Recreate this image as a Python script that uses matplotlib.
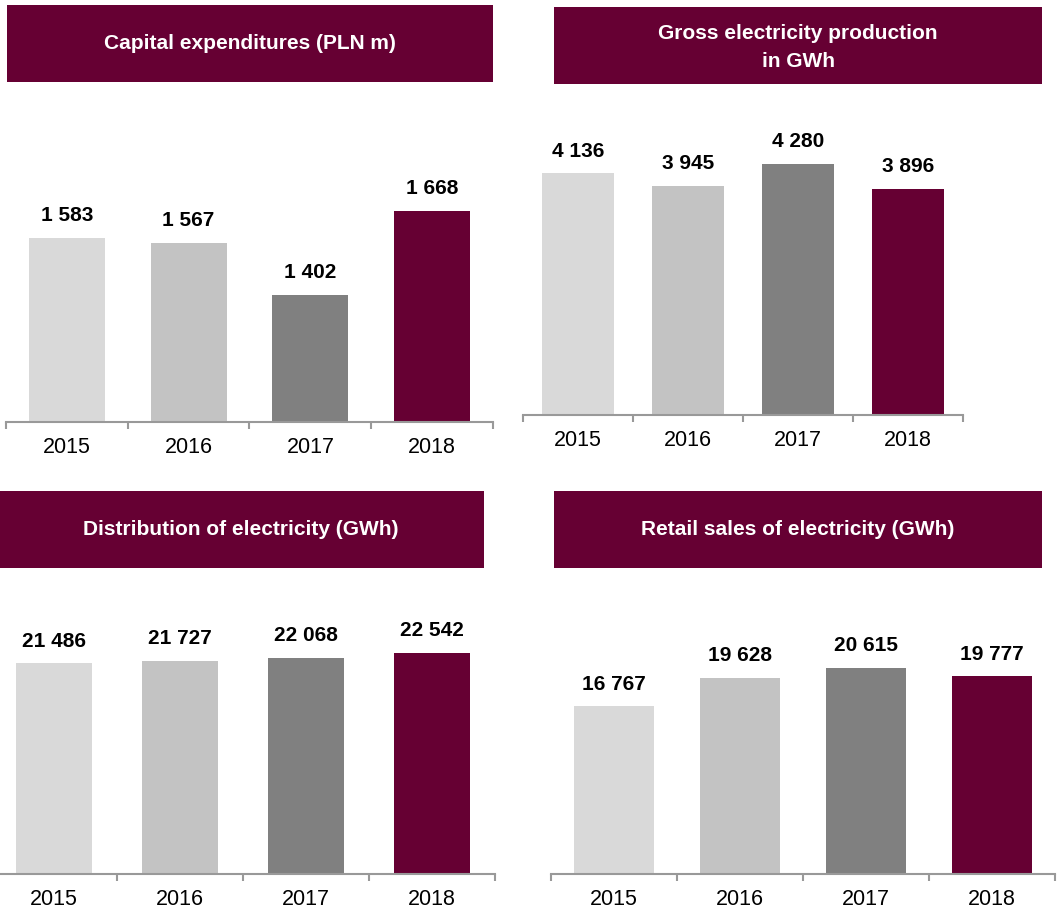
import numpy as np
import matplotlib
matplotlib.use("Agg")
import matplotlib.pyplot as plt
from matplotlib.patches import Rectangle

plt.rcParams['font.family'] = ['Liberation Sans', 'DejaVu Sans']

W, H = 1059, 913

years = ['2015', '2016', '2017', '2018']
capex = [1583, 1567, 1402, 1668]
production = [4136, 3945, 4280, 3896]
distribution = [21486, 21727, 22068, 22542]
retail = [16767, 19628, 20615, 19777]

titles = ['Capital expenditures (PLN m)',
          'Gross electricity production\nin GWh',
          'Distribution of electricity (GWh)',
          'Retail sales of electricity (GWh)']

bar_colors = ['#d9d9d9', '#c3c3c3', '#808080', '#660033']
header_color = '#660033'


def fmt(v):
    # thousands separated by a plain space
    return '{:,}'.format(v).replace(',', ' ')


def px_axes(fig, x0, x1, y_top, y_base):
    return fig.add_axes([x0 / W, 1 - y_base / H, (x1 - x0) / W, (y_base - y_top) / H])


def header(fig, x0, x1, y0, y1, text, dy=0):
    fig.patches.append(Rectangle((x0 / W, 1 - y1 / H), (x1 - x0) / W, (y1 - y0) / H,
                                 transform=fig.transFigure, facecolor=header_color,
                                 edgecolor='none', zorder=0))
    fig.text((x0 + x1) / 2 / W, 1 - ((y0 + y1) / 2 + dy) / H, text, color='white',
             fontsize=15, fontweight='bold', ha='center', va='center', linespacing=1.55)


def bar_panel(ax, values, ymin, ymax, width):
    x = np.arange(len(years))
    bars = ax.bar(x, values, width=width, color=bar_colors, zorder=2)
    for b, v in zip(bars, values):
        ax.annotate(fmt(v), (b.get_x() + b.get_width() / 2, v), xytext=(0, 16),
                    textcoords='offset points', ha='center', va='center',
                    fontsize=15, fontweight='bold', color='black')
    ax.set_xlim(-0.5, len(years) - 0.5)
    ax.set_ylim(ymin, ymax)
    for s in ['top', 'right', 'left']:
        ax.spines[s].set_visible(False)
    ax.spines['bottom'].set_color('#999999')
    ax.spines['bottom'].set_linewidth(1.5)
    ax.set_yticks([])
    ax.set_xticks(x)
    ax.set_xticklabels(years, fontsize=15.5)
    ax.tick_params(axis='x', which='major', length=0, pad=11)
    ax.set_xticks(np.arange(-0.5, len(years)), minor=True)
    ax.tick_params(axis='x', which='minor', length=5, width=1.5, color='#999999',
                   direction='out')
    ax.patch.set_alpha(0)


fig = plt.figure(figsize=(W / 100, H / 100), dpi=100)

header(fig, 7, 493, 5, 82, titles[0])
header(fig, 554, 1042, 7, 84, titles[1], dy=2)
header(fig, -2, 484, 491, 568, titles[2])
header(fig, 554, 1042, 491, 568, titles[3])

ax1 = px_axes(fig, 6, 493, 100, 422)
bar_panel(ax1, capex, 1000, 1000 + 322 * 3.167, 0.625)

ax2 = px_axes(fig, 523, 963, 100, 415)
bar_panel(ax2, production, 500, 500 + 315 * 15.04, 0.65)

ax3 = px_axes(fig, -9, 495, 590, 874)
bar_panel(ax3, distribution, 0, 284 * 102.0, 0.61)

ax4 = px_axes(fig, 551, 1055, 590, 874)
bar_panel(ax4, retail, 0, 284 * 100.0, 0.63)

fig.savefig('out.png', dpi=100)
